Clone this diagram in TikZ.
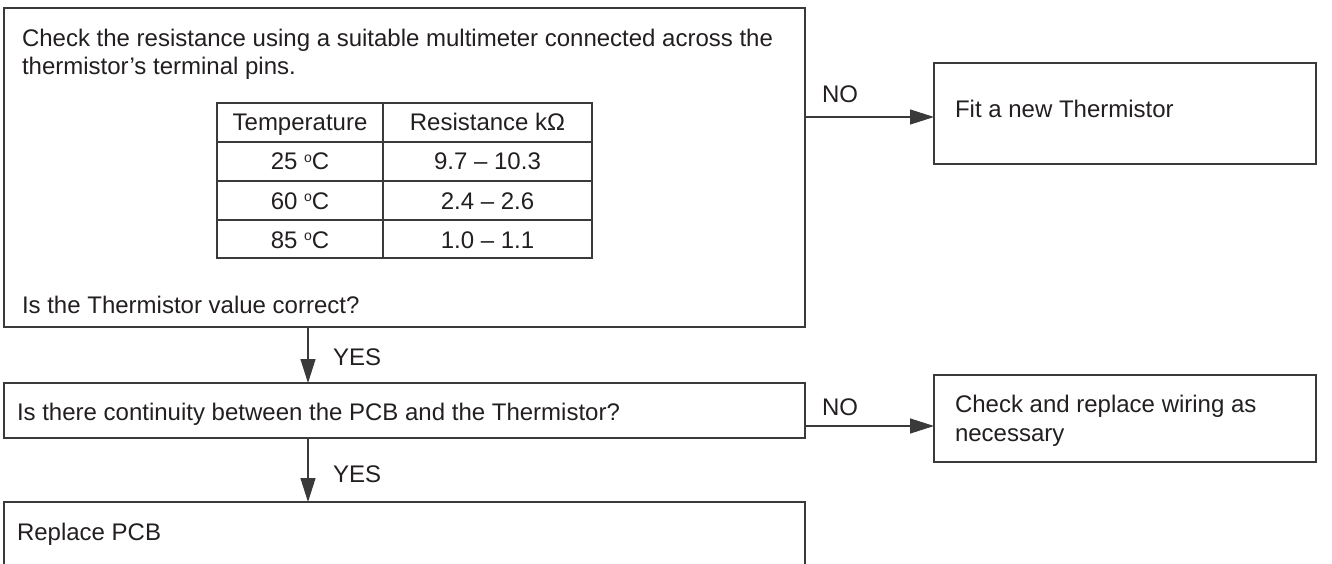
\documentclass[tikz,border=0pt]{standalone}
\usepackage{fontspec}
\setmainfont{Liberation Sans}
\usetikzlibrary{arrows.meta}
\definecolor{ink}{HTML}{231F20}
\definecolor{edge}{HTML}{3A3A3A}
\newcommand{\degsign}{\raisebox{7.5pt}{\fontsize{14}{14}\selectfont o}}
\begin{document}
\begin{tikzpicture}[x=1pt,y=-1pt,
  box/.style={draw=edge, line width=1.3pt, inner sep=0pt, outer sep=0pt, rectangle, anchor=north west},
  txt/.style={inner sep=0pt, outer sep=0pt, text=ink, font=\fontsize{24}{28}\selectfont, anchor=base west},
  ctxt/.style={txt, anchor=base},
  arr/.style={draw=edge, line width=1.3pt, -{Triangle[length=24pt,width=15pt]}},
  grid/.style={draw=edge, line width=1.3pt}]
\useasboundingbox (0,0) rectangle (1332,564);
% boxes
\node[box, minimum width=801pt, minimum height=319pt] (b1) at (4,8) {};
\node[box, minimum width=382pt, minimum height=101pt] (fit) at (934,63) {};
\node[box, minimum width=801pt, minimum height=55pt] (b2) at (4,383) {};
\node[box, minimum width=382pt, minimum height=87pt] (chk) at (934,375) {};
\node[box, minimum width=801pt, minimum height=90pt] (b3) at (4,502) {};
% texts
\node[txt] (t1a) at (22,47) {Check the resistance using a suitable multimeter connected across the};
\node[txt] (t1b) at (22,75) {thermistor’s terminal pins.};
\node[txt] (t1c) at (22,313) {Is the Thermistor value correct?};
\node[txt] (tfit) at (955,118) {Fit a new Thermistor};
\node[txt] (t2) at (17,420) {Is there continuity between the PCB and the Thermistor?};
\node[txt] (tchk1) at (955,412) {Check and replace wiring as};
\node[txt] (tchk2) at (955,441) {necessary};
\node[txt] (t3) at (17,540) {Replace PCB};
% table
\draw[grid] (217,103) rectangle (592,258);
\draw[grid] (383,103) -- (383,258);
\draw[grid] (217,142) -- (592,142);
\draw[grid] (217,181) -- (592,181);
\draw[grid] (217,220) -- (592,220);
\node[ctxt] (h1) at (300,131) {Temperature};
\node[ctxt] (h2) at (487.5,131) {Resistance kΩ};
\node[ctxt] (r1a) at (300,170) {25 \degsign C};
\node[ctxt] (r1b) at (487.5,170) {9.7 – 10.3};
\node[ctxt] (r2a) at (300,209) {60 \degsign C};
\node[ctxt] (r2b) at (487.5,209) {2.4 – 2.6};
\node[ctxt] (r3a) at (300,248) {85 \degsign C};
\node[ctxt] (r3b) at (487.5,248) {1.0 – 1.1};
% connectors
\coordinate (ax) at (308,0);
\coordinate (n1) at (0,117);
\coordinate (n2) at (0,426);
\draw[arr] (b1.south -| ax) -- (b2.north -| ax);
\draw[arr] (b2.south -| ax) -- (b3.north -| ax);
\draw[arr] (b1.east |- n1) -- (fit.west |- n1);
\draw[arr] (b2.east |- n2) -- (chk.west |- n2);
% labels
\node[txt] (yes1) at (333,365) {YES};
\node[txt] (yes2) at (333,482) {YES};
\node[txt] (no1) at (822,103) {NO};
\node[txt] (no2) at (822,415) {NO};
\end{tikzpicture}
\end{document}
